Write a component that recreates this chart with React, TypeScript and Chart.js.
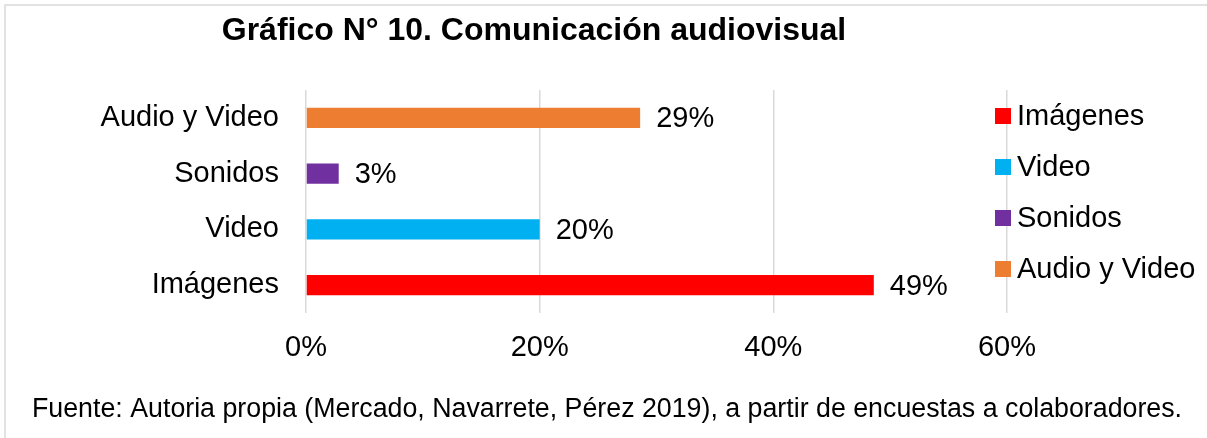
import React, { useEffect, useRef } from "react";
import { Chart, registerables } from "chart.js";

Chart.register(...registerables);

const TITLE = "Gráfico N° 10. Comunicación audiovisual";
const FOOTNOTE =
  "Fuente: Autoria propia (Mercado, Navarrete, Pérez 2019), a partir de encuestas a colaboradores.";
const categories = ["Imágenes", "Video", "Sonidos", "Audio y Video"];
const values = [48.6, 20.0, 2.8, 28.6];
const barColors = ["#FF0000", "#00B0F0", "#7030A0", "#ED7D31"];
const xTicks = [0, 20, 40, 60];

const FONT = "'Liberation Sans', Arial, Helvetica, sans-serif";

const decorPlugin = {
  id: "decor",
  beforeDraw(chart: any) {
    const ctx = chart.ctx;
    ctx.save();
    ctx.fillStyle = "#ffffff";
    ctx.fillRect(0, 0, chart.width, chart.height);
    ctx.strokeStyle = "#d9d9d9";
    ctx.lineWidth = 1.5;
    ctx.strokeRect(5, 5, chart.width + 20, chart.height + 20);
    ctx.restore();
  },
  afterDraw(chart: any) {
    const ctx = chart.ctx;
    ctx.save();
    // title
    ctx.fillStyle = "#000000";
    ctx.font = `bold 32px ${FONT}`;
    ctx.textAlign = "center";
    ctx.textBaseline = "alphabetic";
    ctx.fillText(TITLE, 534, 40);

    // value labels
    const meta = chart.getDatasetMeta(0);
    ctx.font = `29px ${FONT}`;
    ctx.textAlign = "left";
    ctx.textBaseline = "middle";
    meta.data.forEach((bar: any, i: number) => {
      const v = chart.data.datasets[0].data[i];
      ctx.fillText(`${Math.round(v)}%`, bar.x + 16, bar.y + 1.5);
    });

    // legend
    const labels = chart.data.labels as string[];
    const colors = chart.data.datasets[0].backgroundColor as string[];
    const legendY0 = 116;
    const legendStep = 51;
    labels.forEach((lab: string, i: number) => {
      const cy = legendY0 + i * legendStep;
      ctx.fillStyle = colors[i];
      ctx.fillRect(995, cy - 8, 16, 16);
      ctx.fillStyle = "#000000";
      ctx.font = `29px ${FONT}`;
      ctx.textAlign = "left";
      ctx.textBaseline = "middle";
      ctx.fillText(lab, 1017, cy + 1);
    });

    // footnote
    let size = 25;
    ctx.font = `${size}px ${FONT}`;
    const w = ctx.measureText(FOOTNOTE).width;
    size = (size * 1151) / w;
    ctx.font = `${size}px ${FONT}`;
    ctx.textAlign = "left";
    ctx.textBaseline = "alphabetic";
    ctx.fillStyle = "#000000";
    ctx.fillText(FOOTNOTE, 32, 417);
    ctx.restore();
  },
};

export default function App() {
  const ref = useRef<HTMLCanvasElement | null>(null);

  useEffect(() => {
    if (!ref.current) return;
    const chart = new Chart(ref.current, {
      type: "bar",
      data: {
        labels: categories,
        datasets: [
          {
            data: values,
            backgroundColor: barColors,
            categoryPercentage: 1,
            barPercentage: 0.36,
          },
        ],
      },
      options: {
        indexAxis: "y",
        responsive: false,
        animation: false,
        layout: { padding: { left: 0, right: 200, top: 90, bottom: 65 } },
        plugins: {
          legend: { display: false },
          tooltip: { enabled: false },
          title: { display: false },
        },
        scales: {
          x: {
            min: 0,
            max: 60,
            afterBuildTicks(scale: any) {
              scale.ticks = xTicks.map((v) => ({ value: v }));
            },
            afterFit(scale: any) {
              scale.height = 60;
            },
            grid: { color: "#d9d9d9", lineWidth: 1.5, drawTicks: false },
            border: { display: false },
            ticks: {
              padding: 18,
              color: "#000000",
              font: { family: FONT, size: 29, lineHeight: 1.2 },
              callback: (v: any) => `${v}%`,
            },
          },
          y: {
            reverse: true,
            afterFit(scale: any) {
              scale.width = 306;
            },
            grid: { display: false, drawTicks: false },
            border: { display: false },
            ticks: {
              padding: 27,
              color: "#000000",
              font: { family: FONT, size: 29, lineHeight: 1.2 },
            },
          },
        },
      },
      plugins: [decorPlugin],
    });
    return () => chart.destroy();
  }, []);

  return (
    <div style={{ position: "fixed", left: 0, top: 0, width: 1207, height: 438, background: "#fff" }}>
      <canvas ref={ref} width={1207} height={438} style={{ display: "block" }} />
    </div>
  );
}
